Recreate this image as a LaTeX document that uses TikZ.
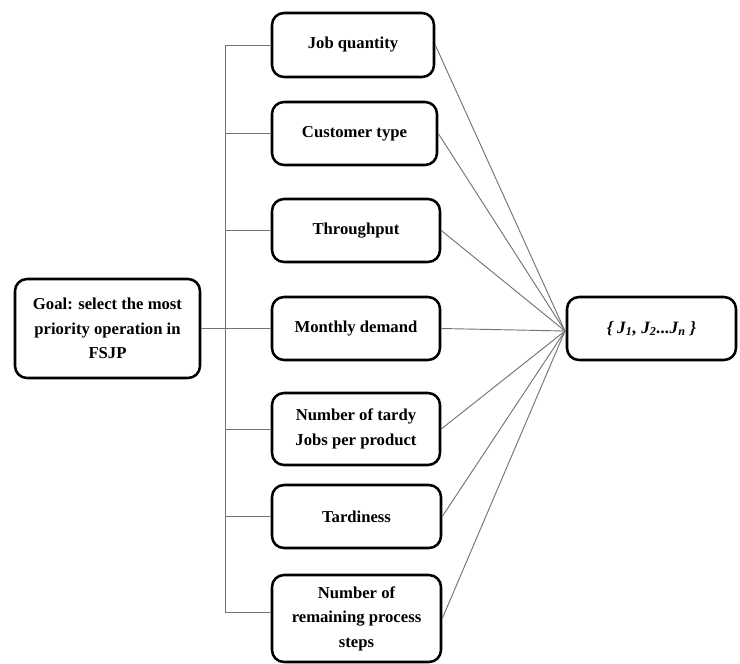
\documentclass[tikz,border=0pt]{standalone}
\usepackage{fontspec}
\setmainfont{Liberation Serif}
\begin{document}
\begin{tikzpicture}[x=0.75pt,y=-0.75pt,
  box/.style={draw=black, line width=1.9pt, rounded corners=9pt, fill=white,
    inner sep=0pt, align=center,
    font=\fontsize{12.5pt}{18.4pt}\selectfont\bfseries},
  link/.style={draw=black!55, line width=0.7pt}]
\useasboundingbox (0,0) rectangle (740,664);

% goal and result
\node[box, minimum width=138.75pt, minimum height=74.25pt] (goal) at (107.5,328.5)
  {\raisebox{-2pt}{\parbox{130pt}{\centering Goal: select the most\\priority operation in\\FSJP}}};
\node[box, minimum width=126.75pt, minimum height=47.25pt] (res) at (651.5,328.5)
  {\fontsize{13pt}{16pt}\selectfont\itshape\{ J\textsubscript{1}, J\textsubscript{2}...J\textsubscript{n} \}};

% criteria
\node[box, minimum width=121.5pt, minimum height=48pt] (jq) at (353,45) {Job quantity};
\node[box, minimum width=123.75pt, minimum height=47.25pt] (ct) at (354.5,133.5) {Customer type};
\node[box, minimum width=126pt, minimum height=47.25pt] (tp) at (356,230.5) {Throughput};
\node[box, minimum width=126pt, minimum height=47.25pt] (md) at (356,328.5) {Monthly demand};
\node[box, minimum width=126pt, minimum height=54pt] (nt) at (356,429) {Number of tardy\\Jobs per product};
\node[box, minimum width=126.75pt, minimum height=47.25pt] (td) at (356.5,516.5) {Tardiness};
\node[box, minimum width=126.75pt, minimum height=65.25pt] (rm) at (356.5,618.5) {Number of\\remaining process\\steps};

\coordinate (spine) at (225,0);
\coordinate (hub) at (565,331);
\coordinate (rmin) at ([yshift=4.9pt]rm.west);

% tree from the goal to the criteria
\draw[link] (goal.east) -- (goal.east -| spine);
\draw[link] (spine |- jq.west) -- (spine |- rmin);
\foreach \n in {jq,ct,tp,md,nt,td}
  \draw[link] (spine |- \n.west) -- (\n.west);
\draw[link] (spine |- rmin) -- (rmin);

% criteria fan into the result
\foreach \n in {jq,ct,tp,md,nt,td,rm}
  \draw[link] (\n.east) -- (hub);
\end{tikzpicture}
\end{document}
